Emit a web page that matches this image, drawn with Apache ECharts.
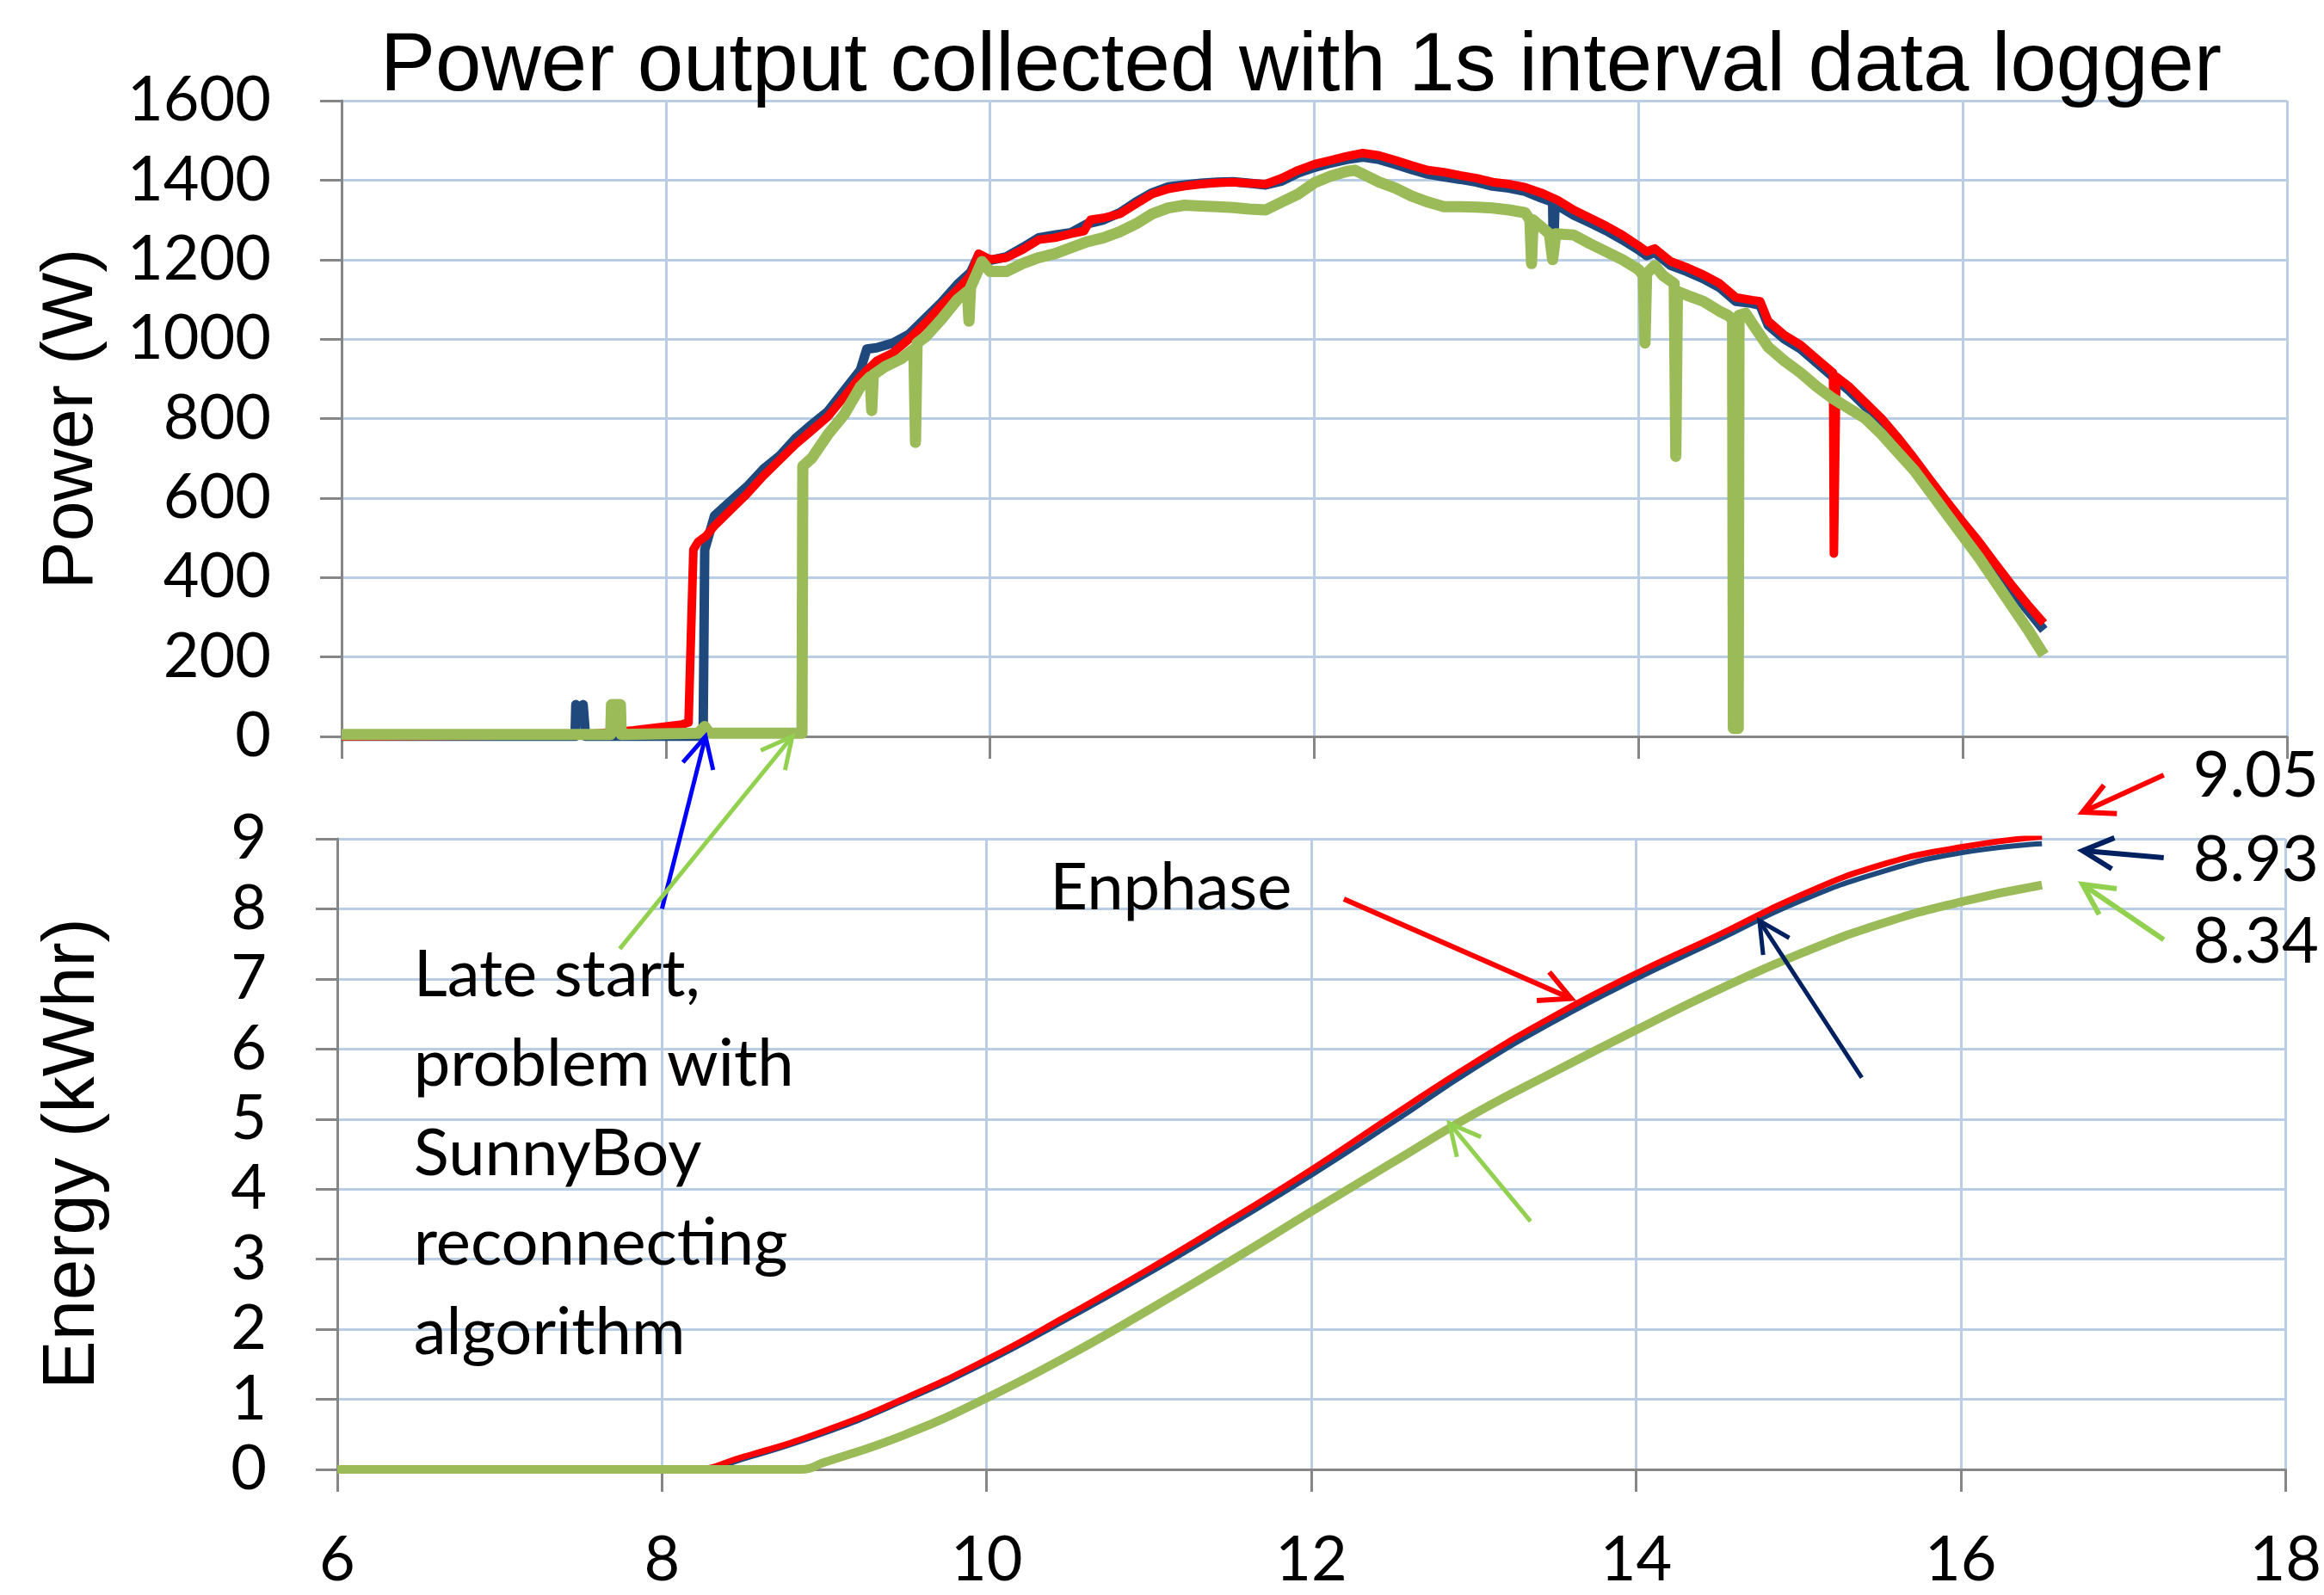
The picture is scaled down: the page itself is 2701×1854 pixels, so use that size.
<!DOCTYPE html>
<html>
<head>
<meta charset="utf-8">
<title>Power output collected with 1s interval data logger</title>
<script src="https://cdn.jsdelivr.net/npm/echarts@6/dist/echarts.min.js"></script>
<style>
  html, body { margin: 0; padding: 0; background: #fff; }
  #chart { width: 2701px; height: 1854px; }
</style>
</head>
<body>
<div id="chart"></div>
<script>
// hour of day -> watts
var powerNavy = [[6.0,0],[7.44,0],[7.445,80],[7.47,72],[7.49,80],[7.505,0],[8.23,0],[8.24,470],[8.3,555],[8.4,592],[8.5,628],[8.6,672],[8.7,705],[8.8,750],[8.9,785],[9.0,818],[9.1,870],[9.2,922],[9.24,975],[9.3,978],[9.4,990],[9.5,1012],[9.6,1052],[9.7,1092],[9.8,1138],[9.88,1168],[9.93,1212],[10.0,1198],[10.1,1207],[10.2,1230],[10.3,1255],[10.4,1262],[10.5,1268],[10.6,1290],[10.7,1300],[10.8,1318],[10.9,1345],[11.0,1368],[11.1,1383],[11.2,1388],[11.3,1392],[11.4,1395],[11.5,1396],[11.6,1392],[11.7,1388],[11.8,1398],[11.9,1418],[12.0,1432],[12.1,1443],[12.2,1452],[12.3,1458],[12.4,1452],[12.5,1440],[12.6,1427],[12.7,1415],[12.8,1408],[12.9,1402],[13.0,1395],[13.1,1385],[13.2,1380],[13.3,1372],[13.4,1355],[13.47,1345],[13.475,1205],[13.485,1340],[13.6,1312],[13.7,1293],[13.8,1273],[13.9,1250],[14.0,1225],[14.05,1210],[14.1,1218],[14.2,1185],[14.3,1170],[14.4,1152],[14.5,1130],[14.6,1095],[14.7,1090],[14.75,1085],[14.8,1035],[14.9,1000],[15.0,975],[15.1,940],[15.2,905],[15.3,870],[15.4,830],[15.5,790],[15.6,742],[15.7,690],[15.8,635],[15.9,580],[16.0,528],[16.1,478],[16.2,422],[16.3,370],[16.4,318],[16.5,268]];
var powerRed = [[6.0,0],[7.45,3],[7.6,8],[7.8,15],[8.0,25],[8.1,30],[8.14,35],[8.17,470],[8.2,490],[8.25,505],[8.3,530],[8.4,570],[8.5,610],[8.6,655],[8.7,695],[8.8,735],[8.9,770],[9.0,805],[9.1,855],[9.2,905],[9.3,945],[9.4,965],[9.5,1000],[9.6,1040],[9.7,1085],[9.8,1125],[9.88,1160],[9.93,1215],[10.0,1200],[10.1,1205],[10.2,1225],[10.3,1250],[10.4,1255],[10.5,1265],[10.58,1272],[10.62,1300],[10.7,1305],[10.8,1315],[10.9,1340],[11.0,1365],[11.1,1378],[11.2,1385],[11.3,1390],[11.4,1393],[11.5,1395],[11.6,1392],[11.7,1390],[11.8,1405],[11.9,1425],[12.0,1440],[12.1,1450],[12.2,1460],[12.3,1468],[12.4,1462],[12.5,1450],[12.6,1437],[12.7,1425],[12.8,1420],[12.9,1412],[13.0,1405],[13.1,1395],[13.2,1390],[13.3,1382],[13.4,1368],[13.5,1350],[13.6,1325],[13.7,1305],[13.8,1285],[13.9,1262],[14.0,1235],[14.05,1220],[14.1,1228],[14.2,1195],[14.3,1180],[14.4,1162],[14.5,1140],[14.6,1105],[14.7,1098],[14.75,1095],[14.8,1045],[14.9,1010],[15.0,985],[15.1,950],[15.2,915],[15.205,460],[15.215,460],[15.22,905],[15.3,880],[15.4,840],[15.5,800],[15.6,752],[15.7,700],[15.8,645],[15.9,592],[16.0,540],[16.1,490],[16.2,435],[16.3,382],[16.4,332],[16.5,285]];
var powerGreen = [[6.0,5],[7.66,5],[7.665,80],[7.72,80],[7.725,5],[8.2,8],[8.24,25],[8.27,8],[8.84,8],[8.845,680],[8.9,700],[9.0,760],[9.1,810],[9.2,880],[9.26,905],[9.27,820],[9.28,910],[9.35,930],[9.45,950],[9.53,975],[9.54,740],[9.55,990],[9.6,1005],[9.7,1050],[9.8,1100],[9.86,1120],[9.87,1045],[9.88,1130],[9.95,1195],[10.0,1170],[10.1,1170],[10.2,1190],[10.3,1205],[10.4,1215],[10.5,1230],[10.6,1245],[10.7,1255],[10.8,1270],[10.9,1290],[11.0,1315],[11.1,1330],[11.2,1337],[11.3,1335],[11.4,1333],[11.5,1331],[11.6,1327],[11.7,1325],[11.8,1345],[11.9,1365],[12.0,1393],[12.1,1410],[12.2,1422],[12.25,1425],[12.3,1415],[12.4,1395],[12.5,1380],[12.6,1360],[12.7,1345],[12.8,1333],[12.9,1333],[13.0,1332],[13.1,1330],[13.2,1325],[13.3,1318],[13.33,1300],[13.34,1190],[13.35,1300],[13.45,1265],[13.47,1200],[13.49,1265],[13.6,1262],[13.7,1240],[13.8,1220],[13.9,1200],[14.0,1175],[14.03,1160],[14.04,990],[14.05,1165],[14.1,1185],[14.15,1160],[14.22,1140],[14.23,705],[14.24,1120],[14.3,1110],[14.4,1095],[14.5,1070],[14.55,1060],[14.58,1050],[14.585,20],[14.615,20],[14.62,1060],[14.66,1065],[14.7,1040],[14.8,980],[14.9,945],[15.0,915],[15.1,880],[15.2,850],[15.3,825],[15.4,800],[15.5,760],[15.6,715],[15.7,670],[15.8,615],[15.9,560],[16.0,505],[16.1,450],[16.2,390],[16.3,330],[16.4,270],[16.5,205]];

// hour of day -> cumulative kWhr
var energyNavy = [[6,0],[8.24,0],[8.5,0.15],[9,0.52],[9.5,0.99],[10,1.53],[10.5,2.15],[11,2.8],[11.5,3.49],[12,4.2],[12.5,4.95],[13,5.72],[13.5,6.4],[14,7.0],[14.5,7.55],[15,8.1],[15.5,8.52],[16,8.8],[16.5,8.93]];
var energyRed = [[6,0],[8.17,0],[8.5,0.18],[9,0.55],[9.5,1.02],[10,1.57],[10.5,2.2],[11,2.86],[11.5,3.56],[12,4.28],[12.5,5.05],[13,5.8],[13.5,6.48],[14,7.08],[14.5,7.62],[15,8.18],[15.5,8.62],[16,8.88],[16.5,9.03]];
var energyGreen = [[6,0],[8.85,0],[9,0.1],[9.5,0.5],[10,1.02],[10.5,1.62],[11,2.28],[11.5,2.97],[12,3.68],[12.5,4.38],[13,5.07],[13.5,5.68],[14,6.27],[14.5,6.84],[15,7.35],[15.5,7.78],[16,8.1],[16.5,8.34]];

var totals = ['9.05', '8.93', '8.34'];
var noteText = 'Late start,\nproblem with\nSunnyBoy\nreconnecting\nalgorithm';

var AXIS = '#868686';
var GRIDLINE = '#b9cde5';
var RED = '#ff0000', NAVY = '#1f497d', GREEN = '#9bbb59';
var LABEL_FONT = 'Lato';
var ARIAL = 'Liberation Sans, Arial, sans-serif';

function xAxisCfg(grid, showLabel) {
  return {
    gridIndex: grid, type: 'value', min: 6, max: 18, interval: 2,
    axisLine: { show: true, onZero: false, lineStyle: { color: AXIS, width: 3 } },
    axisTick: { show: true, length: 26, lineStyle: { color: AXIS, width: 3 } },
    axisLabel: { show: showLabel, color: '#000', fontFamily: LABEL_FONT, fontSize: 72, margin: 70 },
    splitLine: { show: true, lineStyle: { color: GRIDLINE, width: 3 } }
  };
}
function yAxisCfg(grid, max, interval) {
  return {
    gridIndex: grid, type: 'value', min: 0, max: max, interval: interval,
    axisLine: { show: true, lineStyle: { color: AXIS, width: 3 } },
    axisTick: { show: true, length: 25, lineStyle: { color: AXIS, width: 3 } },
    axisLabel: { color: '#000', fontFamily: LABEL_FONT, fontSize: 72, margin: 82, formatter: function (v) { return String(v); } },
    splitLine: { show: true, lineStyle: { color: GRIDLINE, width: 3 } }
  };
}
function line(data, grid, color, width, smooth) {
  return {
    type: 'line', xAxisIndex: grid, yAxisIndex: grid, data: data,
    showSymbol: false, smooth: smooth ? 0.5 : false,
    lineStyle: { color: color, width: width, join: 'round' },
    itemStyle: { color: color }, animation: false
  };
}

var chart = echarts.init(document.getElementById('chart'));
chart.setOption({
  animation: false,
  grid: [
    { left: 397, top: 117, width: 2261, height: 739 },
    { left: 392, top: 975, width: 2266, height: 733 }
  ],
  xAxis: [xAxisCfg(0, false), xAxisCfg(1, true)],
  yAxis: [yAxisCfg(0, 1600, 200), yAxisCfg(1, 9, 1)],
  series: [
    line(powerNavy, 0, NAVY, 11),
    line(powerRed, 0, RED, 10),
    line(powerGreen, 0, GREEN, 13),
    line(energyNavy, 1, NAVY, 6, true),
    line(energyRed, 1, RED, 7, true),
    line(energyGreen, 1, GREEN, 10, true)
  ]
});

// annotations placed in data coordinates of the grid they sit on
function px(grid, pt) { return chart.convertToPixel({ gridIndex: grid }, pt); }
function arrow(tailGrid, tail, tipGrid, tip, color, width) {
  var a = px(tailGrid, tail), b = px(tipGrid, tip);
  var ang = Math.atan2(a[1] - b[1], a[0] - b[0]);
  var L = 40, s = 0.47;
  var p1 = [b[0] + L * Math.cos(ang + s), b[1] + L * Math.sin(ang + s)];
  var p2 = [b[0] + L * Math.cos(ang - s), b[1] + L * Math.sin(ang - s)];
  return [
    { type: 'line', z: 100, shape: { x1: a[0], y1: a[1], x2: b[0], y2: b[1] }, style: { stroke: color, lineWidth: width } },
    { type: 'polyline', z: 100, shape: { points: [p1, b, p2] }, style: { stroke: color, lineWidth: width, fill: null, lineJoin: 'miter' } }
  ];
}
function text(grid, pt, str, opts) {
  var p = px(grid, pt);
  return {
    type: 'text', z: 100, x: p[0], y: p[1],
    style: Object.assign({ text: str, fill: '#000', fontFamily: LABEL_FONT, fontSize: 76, align: 'left', verticalAlign: 'middle' }, opts || {})
  };
}

var g = [];
g.push({
  type: 'text', x: 1512, y: 79,
  style: { text: 'Power output collected with 1s interval data logger', fill: '#000', fontFamily: ARIAL, fontSize: 96, align: 'center', verticalAlign: 'middle' }
});
g.push({
  type: 'text', x: 84, y: 487, rotation: Math.PI / 2,
  style: { text: 'Power (W)', fill: '#000', fontFamily: ARIAL, fontSize: 84, align: 'center', verticalAlign: 'middle' }
});
g.push({
  type: 'text', x: 86, y: 1341, rotation: Math.PI / 2,
  style: { text: 'Energy (kWhr)', fill: '#000', fontFamily: ARIAL, fontSize: 85, align: 'center', verticalAlign: 'middle' }
});

g = g.concat(arrow(1, [8.0, 8.0], 0, [8.245, 0], '#0000ff', 5));
g = g.concat(arrow(1, [7.74, 7.43], 0, [8.78, 0], '#92d050', 5));
g = g.concat(arrow(1, [12.2, 8.14], 1, [13.6, 6.72], RED, 6));
g = g.concat(arrow(1, [15.39, 5.59], 1, [14.76, 7.83], '#002060', 5));
g = g.concat(arrow(1, [13.35, 3.54], 1, [12.85, 4.94], '#92d050', 5));
g = g.concat(arrow(1, [17.25, 9.91], 1, [16.75, 9.38], RED, 6));
g = g.concat(arrow(1, [17.25, 8.73], 1, [16.75, 8.83], '#002060', 6));
g = g.concat(arrow(1, [17.25, 7.56], 1, [16.75, 8.35], '#92d050', 6));

g.push(text(1, [10.39, 8.3], 'Enphase'));
// first line centred near 7.05 kWhr; block anchored at its top edge
g.push(text(1, [6.47, 7.69], noteText, { lineHeight: 104, verticalAlign: 'top' }));
g.push(text(1, [17.43, 9.89], totals[0], { fontSize: 74 }));
g.push(text(1, [17.43, 8.69], totals[1], { fontSize: 74 }));
g.push(text(1, [17.43, 7.53], totals[2], { fontSize: 74 }));

chart.setOption({ graphic: g });
</script>
</body>
</html>
